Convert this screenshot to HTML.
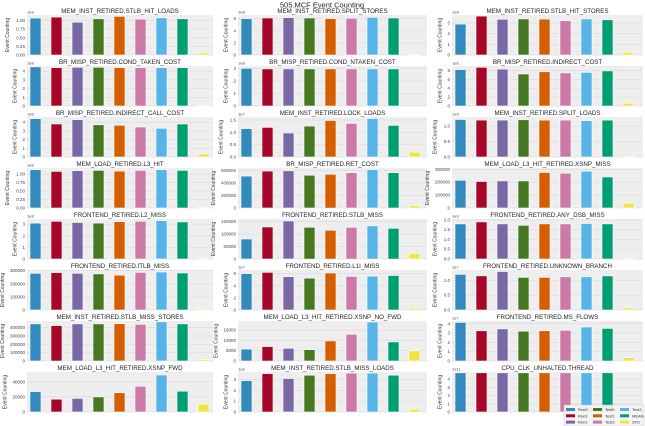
<!DOCTYPE html>
<html><head><meta charset="utf-8"><style>
html,body{margin:0;padding:0;background:#fff;width:645px;height:426px;overflow:hidden}
svg{display:block;font-family:"Liberation Sans","DejaVu Sans",sans-serif}
</style></head><body>
<svg id="s" width="645" height="426" viewBox="0 0 645 426" xmlns="http://www.w3.org/2000/svg">
<text x="322" y="7.5" font-size="7.5" text-anchor="middle" fill="#222">505.MCF Event Counting</text>
</svg>
<script>
var C=["#348ABD","#A60628","#7A68A6","#467821","#D55E00","#CC79A7","#56B4E9","#009E73","#F0E442"];
var cols=[[27,213],[238,427],[452,643]];
var D=[
// col1
["MEM_INST_RETIRED.STLB_HIT_LOADS","1e8",[0,.25,.5,.75,1],["0.00","0.25","0.50","0.75","1.00"],1.16,[1.07,1.10,0.95,1.05,1.12,1.04,1.08,1.05,0.06]],
["BR_MISP_RETIRED.COND_TAKEN_COST","1e8",[0,1,2,3,4],["0","1","2","3","4"],4.6,[4.5,4.4,4.45,4.45,4.4,4.4,4.4,4.4,0.03]],
["BR_MISP_RETIRED.INDIRECT_CALL_COST","1e6",[0,1,2,3,4],["0","1","2","3","4"],4.6,[4.4,3.8,4.3,3.7,3.65,3.45,3.3,3.8,0.35]],
["MEM_LOAD_RETIRED.L3_HIT","1e8",[0,.25,.5,.75,1],["0.00","0.25","0.50","0.75","1.00"],1.18,[1.13,1.08,1.10,1.11,1.09,1.11,1.13,1.11,0.01]],
["FRONTEND_RETIRED.L2_MISS","1e8",[0,1,2,3],["0","1","2","3"],3.45,[3.1,3.25,3.15,3.1,3.22,3.25,3.3,3.2,0.08]],
["FRONTEND_RETIRED.ITLB_MISS","",[0,1e5,2e5,3e5],["0","100000","200000","300000"],305000,[280e3,285e3,280e3,275e3,265e3,287e3,290e3,282e3,8e3]],
["MEM_INST_RETIRED.STLB_MISS_STORES","",[0,1e5,2e5,3e5,4e5],["0","100000","200000","300000","400000"],480000,[445e3,425e3,445e3,445e3,448e3,440e3,470e3,445e3,15e3]],
["MEM_LOAD_L3_HIT_RETIRED.XSNP_FWD","",[0,2e4,4e4],["0","20000","40000"],53000,[27e3,17e3,18e3,20e3,25.5e3,34e3,49e3,27.5e3,10.5e3]],
// col2
["MEM_INST_RETIRED.SPLIT_STORES","1e8",[0,2,4,6],["0","2","4","6"],6.6,[6.0,6.1,6.15,6.1,6.0,6.05,6.2,6.1,0.08]],
["BR_MISP_RETIRED.COND_NTAKEN_COST","1e8",[0,1,2,3],["0","1","2","3"],3.2,[3.02,2.97,2.97,2.97,2.97,2.97,2.97,2.97,0]],
["MEM_INST_RETIRED.LOCK_LOADS","1e7",[0,.5,1,1.5],["0.0","0.5","1.0","1.5"],1.62,[1.15,1.2,0.97,1.25,1.48,1.36,1.56,1.28,0.2]],
["BR_MISP_RETIRED.RET_COST","",[0,2e5,4e5,6e5],["0","200000","400000","600000"],640000,[510e3,590e3,595e3,525e3,540e3,565e3,615e3,565e3,40e3]],
["FRONTEND_RETIRED.STLB_MISS","",[0,5e4,1e5,1.5e5],["0","50000","100000","150000"],160000,[80e3,128e3,152e3,127e3,115e3,127e3,133e3,123e3,22e3]],
["FRONTEND_RETIRED.L1I_MISS","1e7",[0,2,4,6],["0","2","4","6"],6.6,[6.0,6.2,5.5,5.25,6.1,5.55,5.6,5.7,0.3]],
["MEM_LOAD_L3_HIT_RETIRED.XSNP_NO_FWD","",[0,5e3,1e4,1.5e4],["0","5000","10000","15000"],19500,[5.8e3,7e3,6.2e3,5.5e3,9.8e3,13e3,19e3,9.3e3,5e3]],
["MEM_INST_RETIRED.STLB_MISS_LOADS","1e6",[0,1,2,3],["0","1","2","3"],3.7,[2.9,3.55,3.1,3.4,3.55,3.6,3.6,3.4,0.25]],
// col3
["MEM_INST_RETIRED.STLB_HIT_STORES","1e8",[0,1,2,3],["0","1","2","3"],3.75,[2.9,3.65,3.35,3.38,3.37,3.22,3.38,3.3,0.25]],
["BR_MISP_RETIRED.INDIRECT_COST","1e6",[0,2,4,6,8],["0","2","4","6","8"],9.0,[8.2,8.7,8.3,7.2,7.7,7.45,7.55,7.9,0.6]],
["MEM_INST_RETIRED.SPLIT_LOADS","1e9",[0,.5,1],["0.0","0.5","1.0"],1.3,[1.22,1.2,1.2,1.21,1.2,1.2,1.18,1.2,0.01]],
["MEM_LOAD_L3_HIT_RETIRED.XSNP_MISS","",[0,1e5,2e5,3e5],["0","100000","200000","300000"],310000,[215e3,205e3,210e3,210e3,275e3,270e3,285e3,240e3,38e3]],
["FRONTEND_RETIRED.ANY_DSB_MISS","1e9",[0,.5,1,1.5,2],["0.0","0.5","1.0","1.5","2.0"],2.05,[1.8,1.9,1.8,1.72,1.8,1.8,1.82,1.8,0.05]],
["FRONTEND_RETIRED.UNKNOWN_BRANCH","1e7",[0,.5,1],["0.0","0.5","1.0"],1.35,[1.2,1.15,1.3,1.1,1.1,1.12,1.12,1.15,0.07]],
["FRONTEND_RETIRED.MS_FLOWS","1e7",[0,1,2,3,4],["0","1","2","3","4"],4.3,[4.15,3.25,3.45,3.2,3.25,3.3,3.65,3.5,0.35]],
["CPU_CLK_UNHALTED.THREAD","1e11",[0,1,2,3,4],["0","1","2","3","4"],4.85,[4.75,4.75,4.75,4.75,4.75,4.75,4.75,4.75,0]]
];
var s=document.getElementById('s'),h='';
D.forEach(function(d,k){
 var c=Math.floor(k/8),r=k%8,L=cols[c][0],R=cols[c][1],T=15+51*r,H=40,B=T+H;
 h+='<rect x="'+L+'" y="'+T+'" width="'+(R-L)+'" height="'+H+'" fill="#eeeeee"/>';
 var ml=0;
 d[2].forEach(function(v,i){var y=B-v/d[4]*H;
  h+='<line x1="'+L+'" x2="'+R+'" y1="'+y.toFixed(1)+'" y2="'+y.toFixed(1)+'" stroke="#d6d6d6" stroke-width="0.5"/>';
  h+='<text x="'+(L-2)+'" y="'+(y+1.5).toFixed(1)+'" font-size="4.5" text-anchor="end" fill="#444">'+d[3][i]+'</text>';
  ml=Math.max(ml,d[3][i].length);});
 d[5].forEach(function(v,i){var bh=v/d[4]*H,x=L+3+21*i;
  h+='<rect x="'+x+'" y="'+(B-bh).toFixed(1)+'" width="11" height="'+bh.toFixed(1)+'" fill="'+C[i]+'" stroke="#fff" stroke-width="0.6"/>';});
 if(d[1])h+='<text x="'+L+'" y="'+(T-1.5)+'" font-size="4" fill="#444">'+d[1]+'</text>';
 var yl=L-5-ml*2.5-3;
 h+='<text transform="translate('+yl.toFixed(1)+','+(T+H/2)+') rotate(-90)" font-size="5" text-anchor="middle" fill="#333">Event Counting</text>';
 h+='<text x="'+((L+R)/2)+'" y="'+(T-2)+'" font-size="6.2" text-anchor="middle" fill="#222">'+d[0]+'</text>';
});
// legend
h+='<rect x="564" y="405" width="80" height="21" fill="#f4f4f4" stroke="#ccc" stroke-width="0.5" opacity="0.95"/>';
var lab=[["Run0","Run1","Run2"],["Test0","Test1","Test2"],["Test3","MEAN","STD"]];
var lc=[[0,1,2],[3,4,5],[6,7,8]];
for(var a=0;a<3;a++)for(var b=0;b<3;b++){var x=566+a*27,y=408+b*6.3;
 h+='<rect x="'+x+'" y="'+y+'" width="9" height="3" fill="'+C[lc[a][b]]+'"/>';
 h+='<text x="'+(x+12)+'" y="'+(y+3)+'" font-size="4" fill="#333">'+lab[a][b]+'</text>';}
s.insertAdjacentHTML('beforeend',h);
</script>
</body></html>
